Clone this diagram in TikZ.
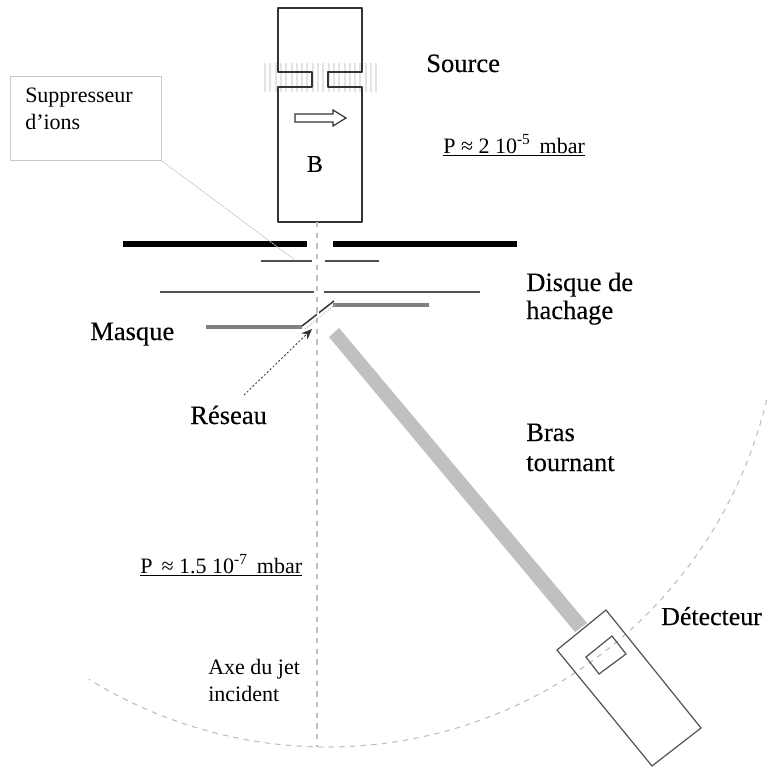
\documentclass[tikz,border=0pt]{standalone}
\usepackage{fontspec}
\setmainfont{Liberation Serif}
\newfontfamily\heavyserif[FakeBold=0.25]{Liberation Serif}
\usetikzlibrary{arrows.meta}
\definecolor{axisgray}{HTML}{BEBEBE}
\definecolor{stripegray}{HTML}{E4E4E4}
\definecolor{armgray}{HTML}{C0C0C0}
\definecolor{boxgray}{HTML}{C8C8C8}
\definecolor{inkgray}{HTML}{333333}
\definecolor{plategray}{HTML}{505050}
\definecolor{maskgray}{HTML}{808080}
\tikzset{
  biglabel/.style={inner sep=0pt,anchor=base west,align=left,font=\heavyserif\fontsize{19.9pt}{21pt}\selectfont},
  smalllabel/.style={inner sep=0pt,anchor=base west,align=left,font=\fontsize{16.5pt}{20.25pt}\selectfont},
  presslabel/.style={inner sep=0pt,anchor=base west,font=\fontsize{16.5pt}{18pt}\selectfont},
  axisline/.style={axisgray,line width=0.8pt,dash pattern=on 4pt off 4pt},
  stripe/.style={stripegray,line width=1.5pt},
  outline/.style={inkgray,line width=1.8pt,line join=round},
  thinoutline/.style={inkgray!85!white,line width=0.9pt,line join=miter},
  thickbar/.style={black,line width=4.5pt},
  platebar/.style={plategray,line width=1pt},
  maskbar/.style={maskgray,line width=2.3pt},
  leader/.style={boxgray,line width=0.6pt,dash pattern=on 1.5pt off 0.6pt},
}
\begin{document}
\begin{tikzpicture}[x=0.75pt,y=-0.75pt]
\useasboundingbox (0,0) rectangle (768,767);
\fill[white] (0,0) rectangle (768,767);
% circle of the detector
\draw[axisline] plot[domain=13.4:121.8,samples=90,smooth] ({327+452*cos(\x)},{295+452*sin(\x)});
% stripes of the slit
\foreach \i in {0,...,21} \draw[stripe] ({265+\i*5.3},63) -- ({265+\i*5.3},92);
% source chamber
\draw[outline] (278,72) -- (278,8) -- (362,8) -- (362,72) -- (328,72) -- (328,87) -- (362,87) -- (362,222) -- (278,222) -- (278,87) -- (312,87) -- (312,72) -- cycle;
\draw[inkgray,line width=0.9pt,fill=white] (295,114) -- (333,114) -- (333,110) -- (346,118) -- (333,126) -- (333,122) -- (295,122) -- cycle;
\node[inner sep=0pt,font=\heavyserif\fontsize{18pt}{20pt}\selectfont] (bfield) at (315,164) {B};
% axis
\coordinate (axistop) at (317,222);
\coordinate (axisbot) at (317,747);
\draw[axisline] (axistop) -- (axisbot);
% plates
\draw[thickbar] (123,244) -- (307,244);
\draw[thickbar] (333,244) -- (517,244);
\draw[platebar] (261,261) -- (312,261);
\draw[platebar] (325,261) -- (379,261);
\draw[platebar] (160,292) -- (314,292);
\draw[platebar] (324,292) -- (480,292);
% mask and grating
\draw[maskbar] (206,327) -- (302,327);
\draw[maskbar] (333,305) -- (429,305);
\draw[inkgray,line width=1.1pt] (302,326) -- (334,301);
\draw[axisgray,line width=0.7pt,dash pattern=on 1pt off 1pt] (305,329) -- (336,304);
\draw[white,line width=1.6pt] (317,314) -- (319,313);
% arm
\fill[armgray] (329,337) -- (339,328) -- (587,623) -- (575,632) -- cycle;
% detector
\draw[thinoutline] (557,650) -- (606,610) -- (701,728) -- (652,766) -- cycle;
\draw[thinoutline] (586,657) -- (612,636) -- (626,654) -- (599,674) -- cycle;
% labels
\node[biglabel] (source) at (426,72) {Source};
\node[presslabel] (phigh) at (443,153) {\underline{\hbox{P ≈ 2 10\textsuperscript{-5} \,mbar}}};
\node[biglabel] (disque) at (526,291) {Disque de};
\node[biglabel] (hachage) at (526,319) {hachage};
\node[biglabel] (masque) at (90,340) {Masque};
\node[biglabel] (reseau) at (190,424) {Réseau};
\node[biglabel] (bras) at (526,441) {Bras};
\node[biglabel] (tournant) at (526,471) {tournant};
\node[presslabel] (plow) at (140,573) {\underline{\hbox{P \,≈ 1.5 10\textsuperscript{-7} \,mbar}}};
\node[biglabel,font=\heavyserif\fontsize{19.4pt}{21pt}\selectfont] (detecteur) at (661,625) {Détecteur};
\node[smalllabel] (axe) at (208,674) {Axe du jet};
\node[smalllabel] (incident) at (208,701) {incident};
% suppressor callout
\node[draw=boxgray,line width=0.75pt,fill=white,minimum width=151*0.75pt,minimum height=84*0.75pt,anchor=north west,inner sep=0pt] (supp) at (10,76) {};
\node[smalllabel] (supptext) at (25,103) {Suppresseur};
\node[smalllabel] (supptextb) at (25,130) {d’ions};
\coordinate (suppend) at (295,260);
\draw[leader] (supp.south east) -- (suppend);
% arrow to the grating
\coordinate (resstart) at (244,395);
\coordinate (restip) at (312,329);
\draw[inkgray,line width=0.6pt,dash pattern=on 1.5pt off 1.5pt,-{Stealth[length=8pt,width=6.5pt]}] (resstart) -- (restip);
\end{tikzpicture}
\end{document}
